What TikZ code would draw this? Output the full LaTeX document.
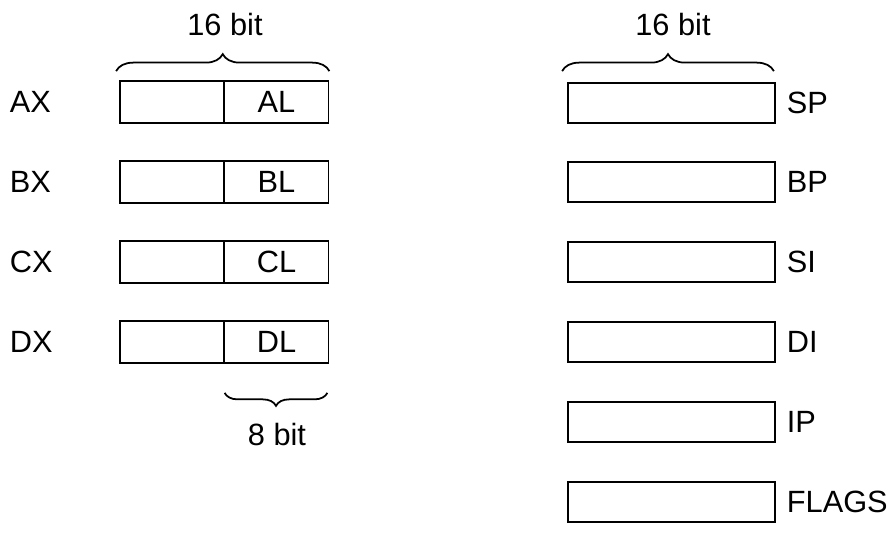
\documentclass[tikz,border=0pt]{standalone}
\usepackage{fontspec}
\setmainfont{Liberation Sans}
\usetikzlibrary{calc, decorations.pathreplacing}

\begin{document}
\begin{tikzpicture}[x=0.02cm, y=0.02cm, line width=1pt,
  font=\fontsize{17.5}{21}\selectfont,
  half/.style={draw, minimum width=2.08cm, minimum height=0.84cm, inner sep=0pt},
  reg/.style={draw, minimum width=4.14cm, minimum height=0.8cm, inner sep=0pt},
  lbl/.style={anchor=west, inner sep=0pt},
  br/.style={decorate, decoration={brace, amplitude=#1}}]
  \useasboundingbox (0,0) rectangle (896,537);
  % general purpose registers, high and low byte
  \node[half] (axh) at (172,435) {};
  \node[half] (axl) at (276.5,435) {AL};
  \node[half] (bxh) at (172,355) {};
  \node[half] (bxl) at (276.5,355) {BL};
  \node[half] (cxh) at (172,275) {};
  \node[half] (cxl) at (276.5,275) {CL};
  \node[half] (dxh) at (172,195) {};
  \node[half] (dxl) at (276.5,195) {DL};
  \node[lbl] (ax) at (9,435) {AX};
  \node[lbl] (bx) at (9,355) {BX};
  \node[lbl] (cx) at (9,275) {CX};
  \node[lbl] (dx) at (9,195) {DX};
  % pointer, index and status registers
  \node[reg] (sp) at (671.5,434) {};
  \node[reg] (bp) at (671.5,355) {};
  \node[reg] (si) at (671.5,275) {};
  \node[reg] (di) at (671.5,195) {};
  \node[reg] (ip) at (671.5,115) {};
  \node[reg] (flags) at (671.5,35) {};
  \node[lbl] (spn) at (786,434) {SP};
  \node[lbl] (bpn) at (786,355) {BP};
  \node[lbl] (sin) at (786,275) {SI};
  \node[lbl] (din) at (786,195) {DI};
  \node[lbl] (ipn) at (786,115) {IP};
  \node[lbl] (flagsn) at (786,35) {FLAGS};
  % widths
  \draw[br=0.34cm] ($(axh.north west)+(-3,9)$) -- ($(axl.north east)+(0,9)$);
  \draw[br=0.34cm] ($(sp.north west)+(-5,11)$) -- ($(sp.north east)+(-2,11)$);
  \draw[br=0.26cm] ($(dxl.south east)+(-2,-29)$) -- ($(dxl.south west)+(1,-29)$);
  \node (wleft) at (225,512) {16 bit};
  \node (wright) at (673,512) {16 bit};
  \node (wlow) at (277,102) {8 bit};
\end{tikzpicture}
\end{document}
